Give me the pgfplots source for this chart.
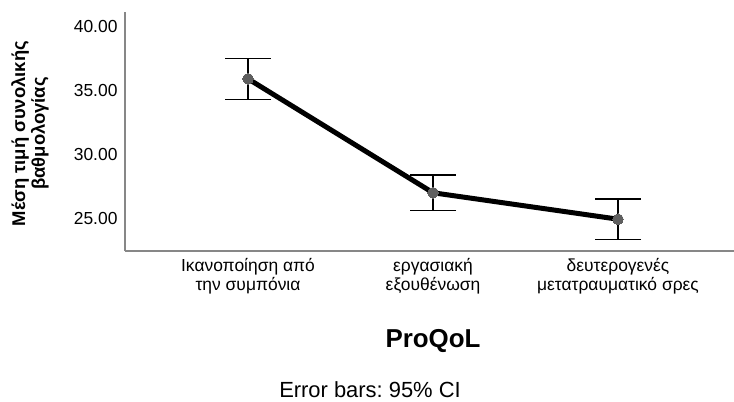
\documentclass[border=0pt]{standalone}
\usepackage{fontspec}
\setmainfont{Liberation Sans}
\usepackage{pgfplots}
\pgfplotsset{compat=1.18}
\definecolor{axisgray}{RGB}{135,135,135}
\definecolor{dotgray}{RGB}{95,95,95}
\frenchspacing
\begin{document}
\begin{tikzpicture}[x=1bp,y=1bp]
\useasboundingbox (0,0) rectangle (734,401);
\begin{axis}[
  at={(125bp,150bp)}, anchor=south west,
  scale only axis, width=609bp, height=239bp,
  xmin=-0.665, xmax=2.627, ymin=22.44, ymax=41.15,
  axis lines*=left,
  axis line style={axisgray, line width=1.8bp},
  major tick length=0pt,
  ytick={25,30,35,40},
  yticklabel style={/pgf/number format/fixed, /pgf/number format/fixed zerofill, /pgf/number format/precision=2, /pgf/number format/assume math mode=true, font=\fontsize{17.5}{17.5}\selectfont, xshift=-4bp},
  xtick={0,1,2},
  xticklabels={{Ικανοποίηση από\\την συμπόνια},{εργασιακή\\εξουθένωση},{δευτερογενές\\μετατραυματικό σρες}},
  xticklabel style={align=center, font=\fontsize{17.5}{19}\selectfont, yshift=-4bp},
  clip=false,
]
\addplot[black, line width=5bp, mark=*, mark size=5.3bp,
  mark options={dotgray, line width=0pt, fill=dotgray},
  error bars/.cd, y dir=both, y explicit,
  error bar style={black, line width=1.5bp},
  error mark=-,
  error mark options={black, rotate=90, mark size=23bp, line width=1.5bp}]
  table[x=x, y=y, y error plus=ep, y error minus=em] {
  x y ep em
  0 35.92 1.605 1.605
  1 27.00 1.40 1.40
  2 24.93 1.58 1.58
};
\end{axis}
\node[rotate=90, align=center, font=\fontsize{18.5}{20}\selectfont\bfseries] at (30,267.5) {Μέση τιμή συνολικής\\βαθμολογίας};
\node[anchor=base, font=\fontsize{26}{26}\selectfont\bfseries] at (433,54) {ProQoL};
\node[anchor=base, font=\fontsize{22}{22}\selectfont] at (370,4) {Error bars: 95\% CI};
\end{tikzpicture}
\end{document}
